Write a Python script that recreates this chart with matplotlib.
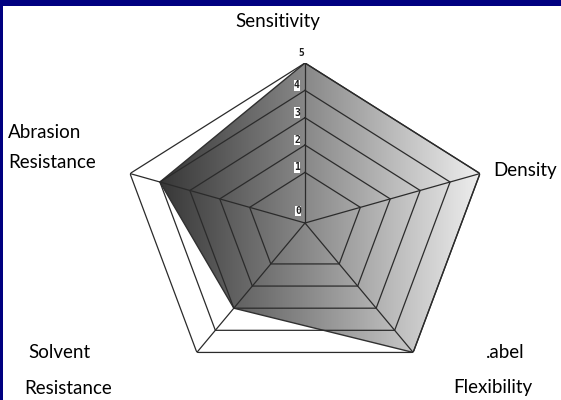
import numpy as np
import matplotlib
matplotlib.use("Agg")
import matplotlib.pyplot as plt
from matplotlib.colors import LinearSegmentedColormap
from matplotlib.patches import Rectangle

# data
categories = ['Sensitivity', 'Density', 'Label Flexibility',
              'Solvent Resistance', 'Abrasion Resistance']
values = [5, 5, 5, 3, 4]
levels = [1, 2, 3, 4, 5]
tick_labels = ['0', '1', '2', '3', '4', '5']
# label text as it shows in the picture (first letter of "Label" is cut off)
label_lines = [['Sensitivity'], ['Density'], ['.abel', 'Flexibility'],
               ['Solvent', 'Resistance'], ['Abrasion', 'Resistance']]

W, H = 561, 400
fig = plt.figure(figsize=(W / 100, H / 100), dpi=100)
fig.patch.set_facecolor('white')

# navy frame on top and left edge
fig.add_artist(Rectangle((0, 1 - 6 / H), 1, 6 / H, transform=fig.transFigure,
                         facecolor='#000080', edgecolor='none'))
fig.add_artist(Rectangle((0, 0), 3 / W, 1, transform=fig.transFigure,
                         facecolor='#000080', edgecolor='none'))

# plot region in pixels: centre (305, 223), radius 184 x 160
cx, cy, rx, ry = 305, 223, 184, 160
rect = [(cx - rx) / W, (H - cy - ry) / H, 2 * rx / W, 2 * ry / H]

# gradient underneath, clipped to the data polygon later
gax = fig.add_axes(rect, zorder=0)
gax.set_axis_off()
cmap = LinearSegmentedColormap.from_list(
    'g', [(0, '#262626'), (0.1, '#363636'), (0.5, '#888888'),
          (0.95, '#e8e8e8'), (1, '#f0f0f0')])
grad = np.linspace(0, 1, 256)[None, :]
img = gax.imshow(grad, extent=[0, 1, 0, 1], aspect='auto', cmap=cmap,
                 vmin=0, vmax=1)
gax.set_xlim(0, 1)
gax.set_ylim(0, 1)

ax = fig.add_axes(rect, projection='polar', zorder=1)
ax.patch.set_visible(False)
ax.set_aspect('auto')
ax.set_theta_offset(np.pi / 2)
ax.set_theta_direction(-1)


# radial scale: first ring sits further out than the rest
def fwd(r):
    r = np.asarray(r, float)
    return r + 0.85 * np.clip(r, 0, 1)


def inv(y):
    y = np.asarray(y, float)
    return np.where(y < 1.85, np.where(y < 0, y, y / 1.85), y - 0.85)


ax.set_rscale('function', functions=(fwd, inv))
ax.set_ylim(0, 5)

n = len(categories)
theta = np.linspace(0, 2 * np.pi, n, endpoint=False)
theta_c = np.append(theta, theta[0])
vals_c = np.append(values, values[0])

poly = ax.fill(theta_c, vals_c, facecolor='none', edgecolor='#303030',
               linewidth=1.0, zorder=3)[0]
img.set_clip_path(poly)

# grid pentagons and spokes
for lv in levels:
    ax.plot(theta_c, [lv] * (n + 1), color='#2b2b2b', linewidth=0.9, zorder=4)
for t in theta:
    ax.plot([t, t], [0, levels[-1]], color='#2b2b2b', linewidth=0.9, zorder=4)

ax.set_xticks([])
ax.set_yticks([])
ax.grid(False)
ax.spines['polar'].set_visible(False)

# value labels along the top spoke
for i, lab in enumerate(tick_labels):
    if i == 0:
        off = (-7, 12)
    elif i == len(tick_labels) - 1:
        off = (-4, 10)
    else:
        off = (-8, 5)
    box = None if i == len(tick_labels) - 1 else dict(facecolor='white', edgecolor='none', pad=0.2)
    ax.annotate(lab, (0, i), xytext=off, textcoords='offset pixels',
                ha='center', va='center', fontsize=7, fontweight='bold',
                family='DejaVu Sans Mono', color='#202020', bbox=box, zorder=6)

# category labels (left x, centre y in pixels)
label_pos = [[(235, 22)], [(493, 170)], [(486, 353), (453, 388)],
             [(28, 352), (24, 388)], [(8, 132), (8, 162)]]
for lines, poss in zip(label_lines, label_pos):
    for txt, (px, py) in zip(lines, poss):
        fig.text(px / W, 1 - py / H, txt, ha='left', va='center',
                 fontsize=13.5, family='Lato', color='black')

fig.savefig('out.png', dpi=100)
